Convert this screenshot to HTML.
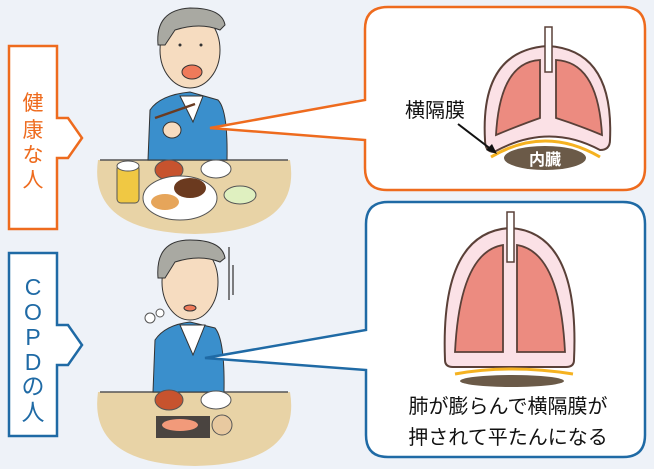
<!DOCTYPE html>
<html><head><meta charset="utf-8"><style>
html,body{margin:0;padding:0;background:#eef2f8;}
svg{display:block}
text{font-family:"Liberation Sans","Noto Sans CJK JP",sans-serif}
</style></head><body>
<svg width="654" height="469" viewBox="0 0 654 469" xmlns="http://www.w3.org/2000/svg">
<rect width="654" height="469" fill="#eef2f8"/>
<path d="M9 46 H57 V118 H68 L82 138 L68 158 H57 V229 H9 Z" fill="#fff" stroke="#ee6b1e" stroke-width="2.5"/>
<text x="33" y="110" font-size="21" fill="#ee6b1e" text-anchor="middle">健</text>
<text x="33" y="137" font-size="21" fill="#ee6b1e" text-anchor="middle">康</text>
<text x="33" y="162" font-size="21" fill="#ee6b1e" text-anchor="middle">な</text>
<text x="33" y="187" font-size="21" fill="#ee6b1e" text-anchor="middle">人</text>
<path d="M9 253 H57 V325 H68 L82 345 L68 365 H57 V436 H9 Z" fill="#fff" stroke="#1f6aa5" stroke-width="2.5"/>
<g font-size="23" fill="#1f6aa5" text-anchor="middle">
<text x="33" y="295">C</text><text x="33" y="320">O</text><text x="33" y="345">P</text><text x="33" y="370">D</text><text x="33" y="394">の</text><text x="33" y="420">人</text></g>

<path d="M98 160 H290 Q302 232 195 234 Q88 232 98 160 Z" fill="#e8d3a6"/>
<line x1="100" y1="160" x2="288" y2="160" stroke="#555" stroke-width="1.5"/>
<path d="M98 392 H290 Q302 464 195 466 Q88 464 98 392 Z" fill="#e8d3a6"/>
<line x1="100" y1="392" x2="288" y2="392" stroke="#555" stroke-width="1.5"/>

<path d="M148 160 L150 110 Q160 95 190 92 L218 100 Q228 110 227 160 Z" fill="#3a8fcc" stroke="#333" stroke-width="1"/>
<path d="M180 96 L193 122 L203 96 Z" fill="#fff" stroke="#333" stroke-width="1"/>
<ellipse cx="190" cy="50" rx="30" ry="38" fill="#f6dcc0" stroke="#333" stroke-width="1"/>
<path d="M158 45 Q155 10 190 8 Q222 8 225 25 L220 30 Q200 22 175 30 L165 45 Z" fill="#a9a9a2" stroke="#333" stroke-width="1"/>
<ellipse cx="192" cy="72" rx="10" ry="7" fill="#ef7a5a" stroke="#333" stroke-width="1"/>
<circle cx="180" cy="45" r="1.5" fill="#333"/><circle cx="201" cy="45" r="1.5" fill="#333"/>
<ellipse cx="172" cy="130" rx="9" ry="8" fill="#f6dcc0" stroke="#333" stroke-width="1"/>
<line x1="155" y1="118" x2="195" y2="104" stroke="#6a3b22" stroke-width="2.5"/>
<rect x="117" y="165" width="22" height="38" rx="4" fill="#f0c843" stroke="#555"/>
<ellipse cx="128" cy="166" rx="11" ry="5" fill="#fff" stroke="#555"/>
<ellipse cx="169" cy="170" rx="14" ry="10" fill="#c7532e" stroke="#555"/>
<ellipse cx="216" cy="169" rx="15" ry="9" fill="#fff" stroke="#555"/>
<ellipse cx="240" cy="195" rx="16" ry="9" fill="#dff0c0" stroke="#555"/>
<ellipse cx="180" cy="198" rx="37" ry="22" fill="#fff" stroke="#555"/>
<ellipse cx="190" cy="188" rx="16" ry="10" fill="#6b3a1f"/>
<ellipse cx="165" cy="202" rx="14" ry="8" fill="#e6a55a"/>

<path d="M153 392 L155 340 Q165 325 190 322 L215 328 Q225 340 224 392 Z" fill="#3a8fcc" stroke="#333" stroke-width="1"/>
<path d="M180 325 L193 355 L205 325 Z" fill="#fff" stroke="#333" stroke-width="1"/>
<ellipse cx="190" cy="282" rx="28" ry="38" fill="#f6dcc0" stroke="#333" stroke-width="1"/>
<path d="M158 278 Q155 240 190 240 Q222 240 225 258 L220 262 Q200 254 175 262 L165 278 Z" fill="#a9a9a2" stroke="#333" stroke-width="1"/>
<ellipse cx="190" cy="308" rx="6" ry="3" fill="#ef7a5a" stroke="#333" stroke-width="1"/>
<line x1="229" y1="247" x2="229" y2="300" stroke="#555" stroke-width="1.5"/>
<line x1="233" y1="265" x2="233" y2="295" stroke="#555" stroke-width="1.5"/>
<circle cx="150" cy="318" r="5" fill="#fff" stroke="#555"/><circle cx="160" cy="313" r="4" fill="#fff" stroke="#555"/>
<ellipse cx="169" cy="400" rx="14" ry="10" fill="#c7532e" stroke="#555"/>
<ellipse cx="216" cy="400" rx="15" ry="9" fill="#fff" stroke="#555"/>
<rect x="156" y="416" width="54" height="22" fill="#4a4440"/>
<ellipse cx="180" cy="425" rx="18" ry="6" fill="#f29a7a"/>
<circle cx="222" cy="425" r="10" fill="#e8c9a0" stroke="#555"/>

<path d="M388 7 H623 Q645 7 645 29 V168 Q645 190 623 190 H387 Q365 190 365 168 V140 L210 128 L365 100 V29 Q365 7 388 7 Z" fill="#fff" stroke="#ee6b1e" stroke-width="2.5"/>
<path d="M485 140 Q480 50 548 46 Q614 50 610 140 Q610 150 600 150 Q548 122 494 152 Q485 152 485 140 Z" fill="#fbe1e6" stroke="#5a4038" stroke-width="2"/>
<path d="M540 60 Q500 62 496 135 Q520 125 540 118 Z" fill="#ec8b80" stroke="#5a4038" stroke-width="1.8"/>
<path d="M556 60 Q598 62 602 135 Q578 125 556 118 Z" fill="#ec8b80" stroke="#5a4038" stroke-width="1.8"/>
<rect x="545" y="27" width="7" height="45" fill="#fff" stroke="#5a4038" stroke-width="1.5"/>
<ellipse cx="545" cy="158" rx="41" ry="12" fill="#6b5a48"/>
<path d="M491 157 Q545 125 600 157" fill="none" stroke="#f5b221" stroke-width="3"/>
<text x="545" y="165" font-size="16" font-weight="bold" fill="#fff" text-anchor="middle">内臓</text>
<text x="435" y="117" font-size="20" fill="#111" text-anchor="middle">横隔膜</text>
<line x1="458" y1="124" x2="492" y2="150" stroke="#111" stroke-width="2"/>
<path d="M497 154 L486 150 L492 144 Z" fill="#111"/>

<path d="M388 202 H623 Q645 202 645 224 V435 Q645 457 623 457 H388 Q366 457 366 435 V370 L205 358 L366 330 V224 Q366 202 388 202 Z" fill="#fff" stroke="#1f6aa5" stroke-width="2.5"/>
<path d="M445 360 Q440 232 510 228 Q580 232 574 360 Q574 367 566 367 H453 Q445 367 445 360 Z" fill="#fbe1e6" stroke="#5a4038" stroke-width="2"/>
<path d="M503 245 Q460 252 455 352 H503 Z" fill="#ec8b80" stroke="#5a4038" stroke-width="1.8"/>
<path d="M517 245 Q560 252 565 352 H517 Z" fill="#ec8b80" stroke="#5a4038" stroke-width="1.8"/>
<rect x="507" y="212" width="7" height="50" fill="#fff" stroke="#5a4038" stroke-width="1.5"/>
<path d="M455 374 Q510 364 573 374" fill="none" stroke="#f5b221" stroke-width="3"/>
<ellipse cx="512" cy="381" rx="52" ry="6" fill="#6b5a48"/>
<text x="508" y="413" font-size="20" fill="#111" text-anchor="middle">肺が膨らんで横隔膜が</text>
<text x="508" y="444" font-size="20" fill="#111" text-anchor="middle">押されて平たんになる</text>
</svg>
</body></html>
